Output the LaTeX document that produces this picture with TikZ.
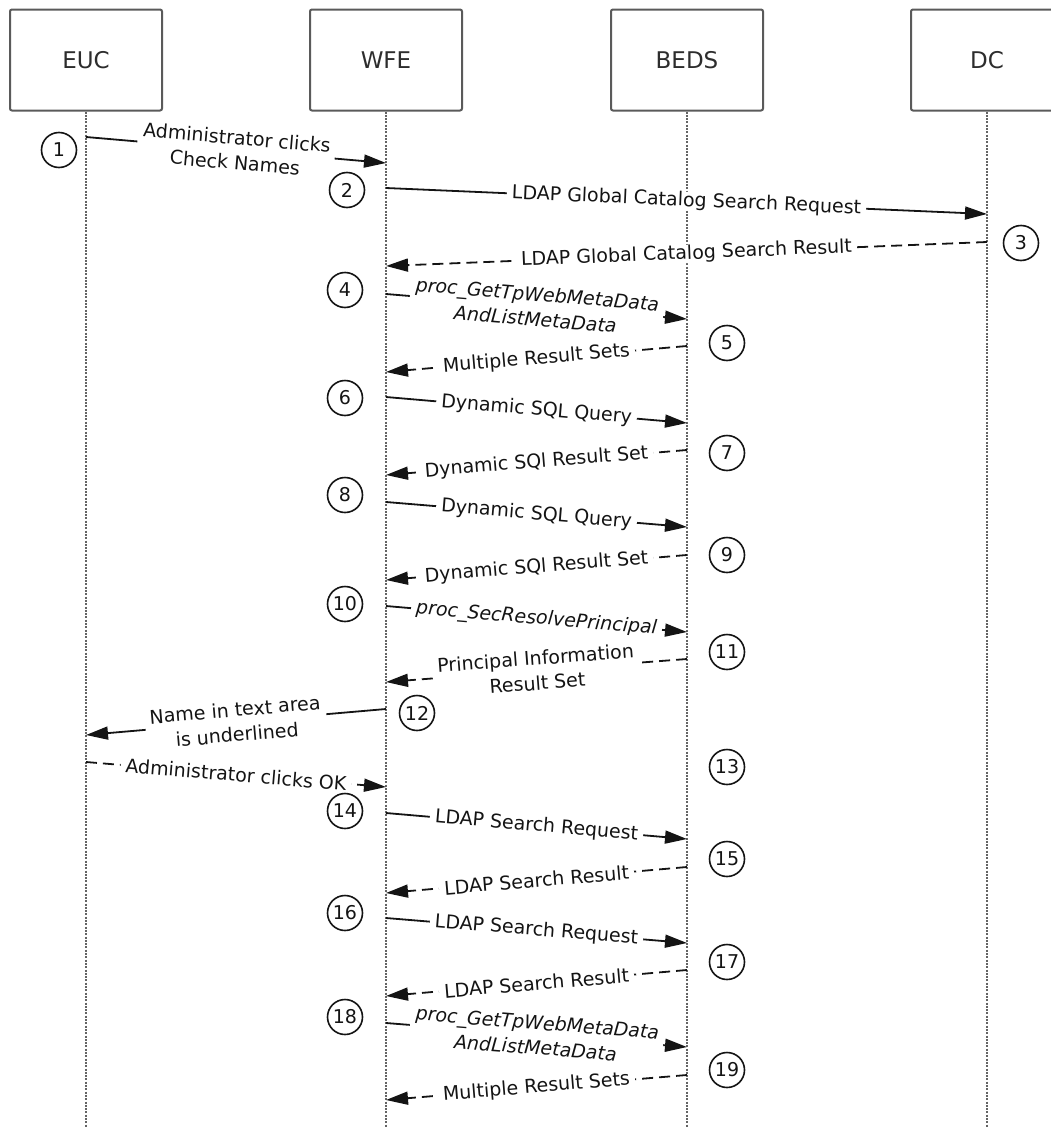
\documentclass[tikz,border=0pt]{standalone}
\usepackage{fontspec}
\setmainfont{DejaVu Sans}
\usetikzlibrary{arrows.meta}
\definecolor{boxgray}{RGB}{90,90,90}
\definecolor{lifegray}{RGB}{100,100,100}
\definecolor{txt}{RGB}{20,20,20}
\begin{document}
\begin{tikzpicture}[x=1pt,y=-1pt,
  actor/.style={draw=boxgray,line width=2pt,rounded corners=2pt,minimum width=152pt,minimum height=101pt,font=\fontsize{23}{27}\selectfont,text={rgb,255:red,45;green,45;blue,45},inner sep=0pt},
  lifeline/.style={draw=lifegray,line width=2.4pt,dash pattern=on 2pt off 1.3pt},
  msg/.style={draw=txt,line width=1.8pt,-{Triangle[length=22pt,width=13pt]}},
  reply/.style={msg,dash pattern=on 11pt off 6pt},
  lbl/.style={sloped,midway,fill=white,inner xsep=5pt,inner ysep=0pt,font=\fontsize{19}{25}\selectfont,align=center,text=txt},
  ital/.style={font=\fontsize{19}{25}\selectfont\itshape},
  num/.style={circle,draw=txt,line width=1.6pt,minimum size=35pt,inner sep=0pt,font=\fontsize{19}{19}\selectfont,text=txt}]
\useasboundingbox (0,0) rectangle (1051,1127);

% actors
\node[actor] (euc) at (86,60) {EUC};
\node[actor] (wfe) at (386,60) {WFE};
\node[actor] (beds) at (687,60) {BEDS};
\node[actor] (dc) at (987,60) {DC};

% lifeline ends
\coordinate (eucend) at (86,1127);
\coordinate (wfeend) at (386,1127);
\coordinate (bedsend) at (687,1127);
\coordinate (dcend) at (987,1127);
\draw[lifeline] (euc.south) -- (eucend);
\draw[lifeline] (wfe.south) -- (wfeend);
\draw[lifeline] (beds.south) -- (bedsend);
\draw[lifeline] (dc.south) -- (dcend);

% message end points
\coordinate (m1a) at (86,137);   \coordinate (m1b) at (386,163);
\coordinate (m2a) at (386,188);  \coordinate (m2b) at (987,214);
\coordinate (m3a) at (987,242);  \coordinate (m3b) at (386,266);
\coordinate (m4a) at (386,294);  \coordinate (m4b) at (687,319);
\coordinate (m5a) at (687,346);  \coordinate (m5b) at (386,372);
\coordinate (m6a) at (386,397);  \coordinate (m6b) at (687,423);
\coordinate (m7a) at (687,450);  \coordinate (m7b) at (386,475);
\coordinate (m8a) at (386,502);  \coordinate (m8b) at (687,527);
\coordinate (m9a) at (687,555);  \coordinate (m9b) at (386,580);
\coordinate (m10a) at (386,606); \coordinate (m10b) at (687,632);
\coordinate (m11a) at (687,659); \coordinate (m11b) at (386,682);
\coordinate (m12a) at (386,709); \coordinate (m12b) at (86,735);
\coordinate (m13a) at (86,762);  \coordinate (m13b) at (386,787);
\coordinate (m14a) at (386,813); \coordinate (m14b) at (687,839);
\coordinate (m15a) at (687,867); \coordinate (m15b) at (386,893);
\coordinate (m16a) at (386,918); \coordinate (m16b) at (687,943);
\coordinate (m17a) at (687,970); \coordinate (m17b) at (386,996);
\coordinate (m18a) at (386,1023);\coordinate (m18b) at (687,1047);
\coordinate (m19a) at (687,1075);\coordinate (m19b) at (386,1100);

% messages
\draw[msg] (m1a) -- node[lbl] (t1) {Administrator clicks\\Check Names} (m1b);
\draw[msg] (m2a) -- node[lbl] (t2) {LDAP Global Catalog Search Request} (m2b);
\draw[reply] (m3a) -- node[lbl] (t3) {LDAP Global Catalog Search Result} (m3b);
\draw[msg] (m4a) -- node[lbl,ital] (t4) {proc\_GetTpWebMetaData\\AndListMetaData} (m4b);
\draw[reply] (m5a) -- node[lbl] (t5) {Multiple Result Sets} (m5b);
\draw[msg] (m6a) -- node[lbl] (t6) {Dynamic SQL Query} (m6b);
\draw[reply] (m7a) -- node[lbl] (t7) {Dynamic SQl Result Set} (m7b);
\draw[msg] (m8a) -- node[lbl] (t8) {Dynamic SQL Query} (m8b);
\draw[reply] (m9a) -- node[lbl] (t9) {Dynamic SQl Result Set} (m9b);
\draw[msg] (m10a) -- node[lbl,ital] (t10) {proc\_SecResolvePrincipal} (m10b);
\draw[reply] (m11a) -- node[lbl] (t11) {Principal Information\\Result Set} (m11b);
\draw[msg] (m12a) -- node[lbl] (t12) {Name in text area\\is underlined} (m12b);
\draw[reply] (m13a) -- node[lbl] (t13) {Administrator clicks OK} (m13b);
\draw[msg] (m14a) -- node[lbl] (t14) {LDAP Search Request} (m14b);
\draw[reply] (m15a) -- node[lbl] (t15) {LDAP Search Result} (m15b);
\draw[msg] (m16a) -- node[lbl] (t16) {LDAP Search Request} (m16b);
\draw[reply] (m17a) -- node[lbl] (t17) {LDAP Search Result} (m17b);
\draw[msg] (m18a) -- node[lbl,ital] (t18) {proc\_GetTpWebMetaData\\AndListMetaData} (m18b);
\draw[reply] (m19a) -- node[lbl] (t19) {Multiple Result Sets} (m19b);

% step numbers
\node[num] (n1) at (59,150) {1};
\node[num] (n2) at (347,190) {2};
\node[num] (n3) at (1021,243) {3};
\node[num] (n4) at (345,290) {4};
\node[num] (n5) at (727,343) {5};
\node[num] (n6) at (345,398) {6};
\node[num] (n7) at (727,453) {7};
\node[num] (n8) at (345,495) {8};
\node[num] (n9) at (727,555) {9};
\node[num] (n10) at (345,604) {10};
\node[num] (n11) at (727,652) {11};
\node[num] (n12) at (417,713) {12};
\node[num] (n13) at (727,767) {13};
\node[num] (n14) at (345,811) {14};
\node[num] (n15) at (727,859) {15};
\node[num] (n16) at (345,913) {16};
\node[num] (n17) at (727,962) {17};
\node[num] (n18) at (345,1017) {18};
\node[num] (n19) at (727,1070) {19};
\end{tikzpicture}
\end{document}
